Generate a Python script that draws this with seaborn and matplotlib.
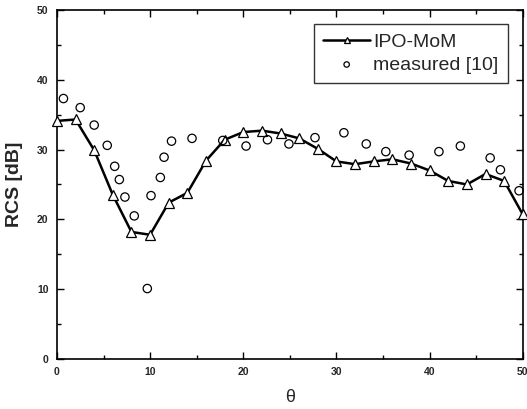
import numpy as np
import pandas as pd
import matplotlib
matplotlib.use('Agg')
import matplotlib.pyplot as plt
from matplotlib.ticker import MultipleLocator
import seaborn as sns

# IPO-MoM (computed), every 2 degrees
theta_ipo = [0, 2, 4, 6, 8, 10, 12, 14, 16, 18, 20, 22, 24, 26, 28, 30,
             32, 34, 36, 38, 40, 42, 44, 46, 48, 50]
rcs_ipo = [34.1, 34.3, 29.9, 23.5, 18.2, 17.8, 22.4, 23.8, 28.4, 31.4,
           32.5, 32.7, 32.3, 31.6, 30.1, 28.3, 27.9, 28.3, 28.6, 28.0,
           27.0, 25.5, 25.0, 26.5, 25.5, 20.7]

# measured [10]
theta_meas = [0.7, 2.5, 4.0, 5.4, 6.2, 6.7, 7.3, 8.3, 9.7, 10.1, 11.1, 11.5,
              12.3, 14.5, 17.8, 20.3, 22.6, 24.9, 27.7, 30.8, 33.2, 35.3,
              37.8, 41.0, 43.3, 46.5, 47.6, 49.6]
rcs_meas = [37.3, 36.0, 33.5, 30.6, 27.6, 25.7, 23.2, 20.5, 10.1, 23.4,
            26.0, 28.9, 31.2, 31.6, 31.3, 30.5, 31.4, 30.8, 31.7, 32.4,
            30.8, 29.7, 29.2, 29.7, 30.5, 28.8, 27.1, 24.1]

sns.set_style('ticks')
plt.rcParams['font.family'] = ['Liberation Sans', 'DejaVu Sans']

fig = plt.figure(figsize=(5.27, 4.09), dpi=100)
ax = fig.add_axes([0.108, 0.122, 0.884, 0.854])

df_ipo = pd.DataFrame({'theta': theta_ipo, 'rcs': rcs_ipo})
df_meas = pd.DataFrame({'theta': theta_meas, 'rcs': rcs_meas})

sns.lineplot(data=df_ipo, x='theta', y='rcs', ax=ax, color='black', lw=1.8,
             marker='^', markersize=7, markerfacecolor='white',
             markeredgecolor='black', markeredgewidth=0.9,
             label='IPO-MoM', clip_on=False, zorder=3)
sns.scatterplot(data=df_meas, x='theta', y='rcs', ax=ax, marker='o', s=36,
                facecolor='none', edgecolor='black', linewidth=0.9,
                label='measured [10]', clip_on=False, zorder=4)

ax.set_xlim(0, 50)
ax.set_ylim(0, 50)
ax.xaxis.set_major_locator(MultipleLocator(10))
ax.xaxis.set_minor_locator(MultipleLocator(5))
ax.yaxis.set_major_locator(MultipleLocator(10))
ax.yaxis.set_minor_locator(MultipleLocator(5))
ax.tick_params(which='both', direction='in', top=True, right=True,
               color='black', width=1.0)
ax.tick_params(which='major', length=5, labelsize=7.5, pad=6)
ax.tick_params(which='minor', length=3)
for lab in ax.get_xticklabels() + ax.get_yticklabels():
    lab.set_fontweight('bold')
for sp in ax.spines.values():
    sp.set_color('black')
    sp.set_linewidth(1.2)

ax.set_xlabel('θ', fontsize=13, labelpad=8)
ax.set_ylabel('RCS [dB]', fontsize=14, fontweight='bold', labelpad=10)

leg = ax.legend(loc='upper right', bbox_to_anchor=(0.968, 0.96),
                borderaxespad=0, frameon=True, fancybox=False,
                edgecolor='black', prop={'size': 14}, markerscale=0.65,
                handlelength=2.4, borderpad=0.5, labelspacing=0.25,
                handletextpad=0.15)
leg.get_frame().set_linewidth(1.0)

fig.savefig('out.png', dpi=100)
